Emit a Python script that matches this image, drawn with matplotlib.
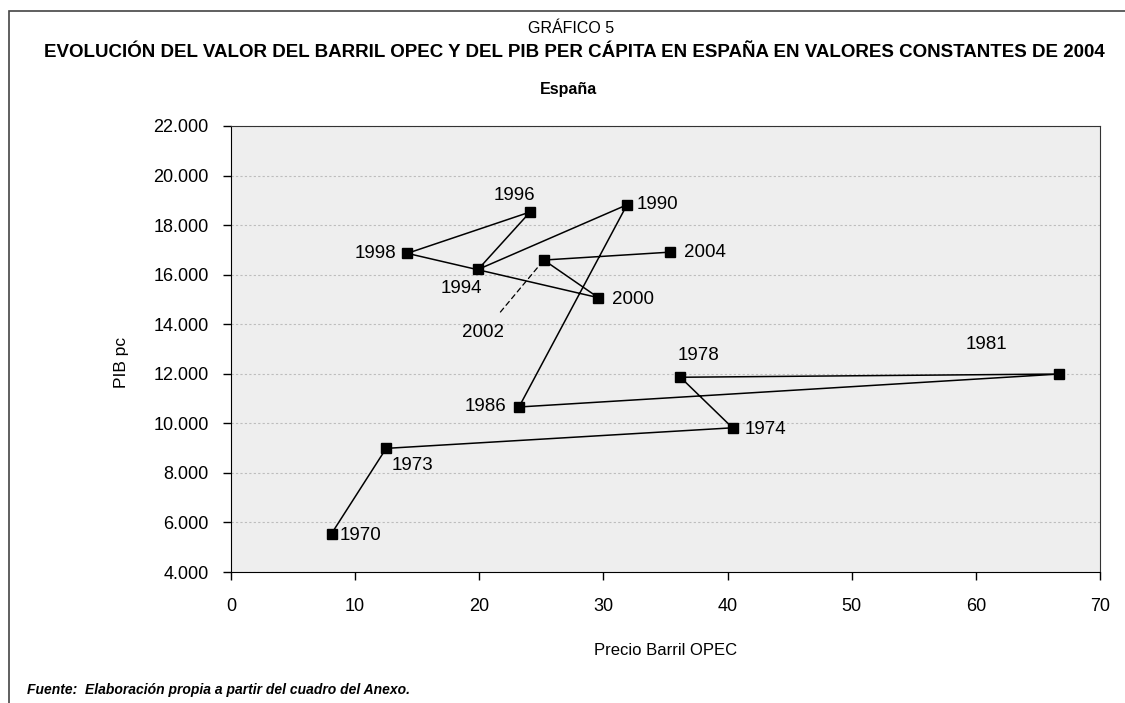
import matplotlib.pyplot as plt
from matplotlib.patches import Rectangle
from matplotlib.ticker import FuncFormatter

plt.rcParams['font.family'] = ['Liberation Sans', 'DejaVu Sans']

# Datos: precio barril OPEC (x) y PIB per cápita (y), valores constantes de 2004
anios = ["1970", "1973", "1974", "1978", "1981", "1986", "1990",
         "1994", "1996", "1998", "2000", "2002", "2004"]
precio = [8.1, 12.5, 40.4, 36.2, 66.7, 23.2, 31.9,
          19.9, 24.1, 14.2, 29.6, 25.2, 35.4]
pib = [5550, 8990, 9820, 11860, 11990, 10660, 18820,
       16210, 18530, 16860, 15070, 16590, 16910]

# desplazamiento de cada etiqueta (puntos) y alineación
etiquetas = {
    "1970": ((6, -1), "left"),
    "1973": ((4, -12), "left"),
    "1974": ((9, -1), "left"),
    "1978": ((-2, 16), "left"),
    "1981": ((-37, 21), "right"),
    "1986": ((-9, 0), "right"),
    "1990": ((7, 0), "left"),
    "1994": ((3, -14), "right"),
    "1996": ((4, 12), "right"),
    "1998": ((-8, 0), "right"),
    "2000": ((10, -1), "left"),
    "2004": ((10, 0), "left"),
}

fig = plt.figure(figsize=(11.25, 7.03), dpi=100)
ax = fig.add_axes([0.2053, 0.1863, 0.7725, 0.6345])
ax.set_facecolor("#eeeeee")

ax.plot(precio, pib, color="black", lw=1.1, marker="s", markersize=7,
        markerfacecolor="black", markeredgecolor="black", zorder=3)

for a, x, y in zip(anios, precio, pib):
    if a == "2002":
        # etiqueta alejada con línea guía discontinua
        ax.annotate(a, (x, y), xytext=(20.3, 13650), ha="center", va="center",
                    fontsize=13.5,
                    arrowprops=dict(arrowstyle="-", linestyle=(0, (4, 3)), lw=0.9,
                                    color="black", shrinkA=9, shrinkB=7))
    else:
        off, ha = etiquetas[a]
        ax.annotate(a, (x, y), xytext=off, textcoords="offset points",
                    ha=ha, va="center", fontsize=13.5)

ax.set_xlim(0, 70)
ax.set_ylim(4000, 22000)
ax.set_xticks(range(0, 71, 10))
ax.set_yticks(range(4000, 22001, 2000))
ax.yaxis.set_major_formatter(FuncFormatter(lambda v, p: f"{int(v):,}".replace(",", ".")))
ax.tick_params(direction="out", length=6, width=1, labelsize=13)
ax.tick_params(axis="x", pad=13)
ax.tick_params(axis="y", pad=10)
ax.grid(axis="y", color="#bdbdbd", linestyle=(0, (2, 2)), lw=0.8)
ax.set_axisbelow(True)
for s in ax.spines.values():
    s.set_color("#333333")
ax.spines["left"].set_color("black")
ax.spines["bottom"].set_color("black")

ax.set_xlabel("Precio Barril OPEC", fontsize=12, labelpad=20)
ax.set_ylabel("PIB pc", fontsize=12.5, labelpad=20)
ax.yaxis.set_label_coords(-0.117, 0.47)

fig.text(0.508, 0.960, "GRÁFICO 5", ha="center", va="center", fontsize=11.5)
fig.text(0.511, 0.925, "EVOLUCIÓN DEL VALOR DEL BARRIL OPEC Y DEL PIB PER CÁPITA EN ESPAÑA EN VALORES CONSTANTES DE 2004",
         ha="center", va="center", fontsize=13.5, fontweight="bold")
fig.text(0.505, 0.872, "España", ha="center", va="center", fontsize=11.5, fontweight="bold")
fig.text(0.024, 0.018, "Fuente:  Elaboración propia a partir del cuadro del Anexo.",
         ha="left", va="center", fontsize=10, fontweight="bold", style="italic")

fig.patches.append(Rectangle((0.008, -0.01), 1.0, 0.994, transform=fig.transFigure,
                             fill=False, edgecolor="#444444", lw=1.2))

fig.savefig("out.png", dpi=100)
